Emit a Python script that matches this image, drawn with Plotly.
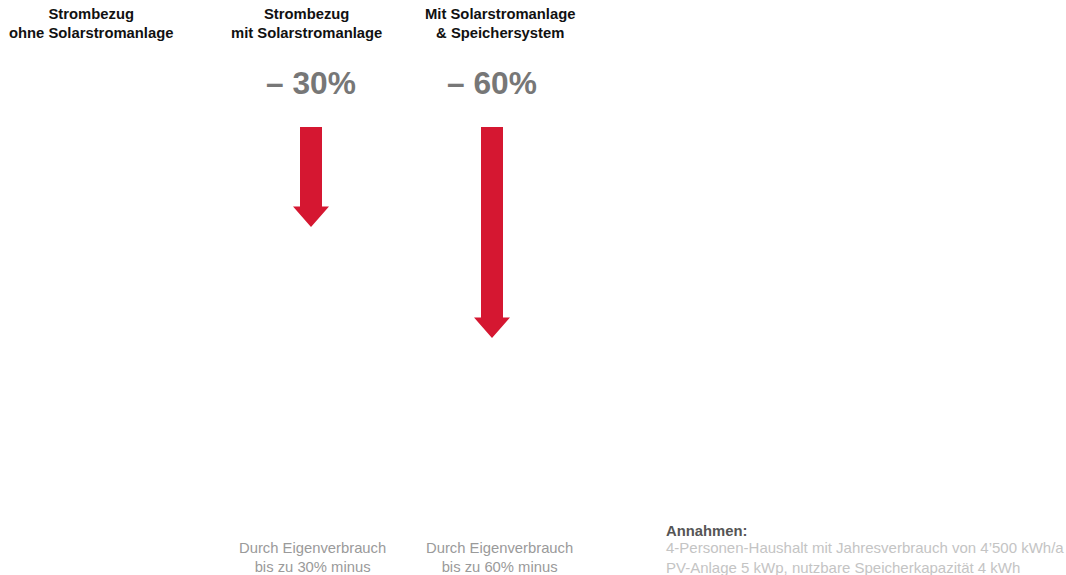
import plotly.graph_objects as go

# --- data -----------------------------------------------------------------
headers = [
    "Strombezug<br>ohne Solarstromanlage",
    "Strombezug<br>mit Solarstromanlage",
    "Mit Solarstromanlage<br>& Speichersystem",
]
reduction = [0, 30, 60]  # reduction of grid consumption in %
captions = [
    "",
    "Durch Eigenverbrauch<br>bis zu 30% minus",
    "Durch Eigenverbrauch<br>bis zu 60% minus",
]
notes_title = "Annahmen:"
notes = [
    "4-Personen-Haushalt mit Jahresverbrauch von 4’500 kWh/a",
    "PV-Anlage 5 kWp, nutzbare Speicherkapazität 4 kWh",
]

# --- layout constants -----------------------------------------------------
W, H = 1066, 575
header_x = [91, 306, 500]
arrow_x = [91, 311, 492]
caption_x = [91, 312, 499]
PX_PER_PCT = 3.7           # vertical scale of the arrows
ZERO_PX = 116              # pixel row of the 0 % line
ARROW_GAP = 3              # arrows start a little below the 0 % line
SHAFT_HALF = 11
HEAD_HALF = 18
HEAD_LEN = 20.5 / PX_PER_PCT

RED = "#d51731"
FONT = "Liberation Sans, Arial, Helvetica, sans-serif"

y_max = ZERO_PX / PX_PER_PCT
y_min = -(H - ZERO_PX) / PX_PER_PCT


def py(px):
    """paper y coordinate for a pixel row"""
    return 1 - px / H


fig = go.Figure()

for cx, v in zip(arrow_x, reduction):
    if v <= 0:
        continue
    top = -ARROW_GAP
    neck = -v + HEAD_LEN
    xs = [cx - SHAFT_HALF, cx + SHAFT_HALF, cx + SHAFT_HALF, cx + HEAD_HALF,
          cx, cx - HEAD_HALF, cx - SHAFT_HALF, cx - SHAFT_HALF]
    ys = [top, top, neck, neck, -v, neck, neck, top]
    fig.add_trace(go.Scatter(
        x=xs, y=ys, mode="lines", fill="toself",
        fillcolor=RED, line=dict(color=RED, width=0),
        hoverinfo="skip", showlegend=False,
    ))
    fig.add_annotation(
        x=cx, y=py(83), xref="x", yref="paper",
        text=f"<b>– {v}%</b>", showarrow=False,
        font=dict(family=FONT, size=31.7, color="#777777"),
        xanchor="center", yanchor="middle",
    )

for hx, h in zip(header_x, headers):
    fig.add_annotation(
        x=hx, y=py(23), xref="x", yref="paper",
        text=f"<b>{h}</b>", showarrow=False,
        font=dict(family=FONT, size=14.8, color="#111111"),
        xanchor="center", yanchor="middle", align="center",
    )

for cx, c in zip(caption_x, captions):
    if not c:
        continue
    fig.add_annotation(
        x=cx, y=py(557.5), xref="x", yref="paper",
        text=c, showarrow=False,
        font=dict(family=FONT, size=14.8, color="#9a9a9a"),
        xanchor="center", yanchor="middle", align="center",
    )

fig.add_annotation(
    x=664, y=py(531), xref="x", yref="paper",
    text=f"<b>{notes_title}</b>", showarrow=False,
    font=dict(family=FONT, size=14.8, color="#555555"),
    xanchor="left", yanchor="middle", align="left",
)
fig.add_annotation(
    x=664, y=py(557), xref="x", yref="paper",
    text="<br>".join(notes), showarrow=False,
    font=dict(family=FONT, size=15, color="#c4c4c4"),
    xanchor="left", yanchor="middle", align="left",
)

fig.update_layout(
    width=W, height=H,
    margin=dict(l=0, r=0, t=0, b=0),
    paper_bgcolor="white", plot_bgcolor="white",
    xaxis=dict(range=[0, W], visible=False, fixedrange=True),
    yaxis=dict(range=[y_min, y_max], visible=False, fixedrange=True),
    showlegend=False,
)

fig.write_html("out.html", config={"displayModeBar": False})
